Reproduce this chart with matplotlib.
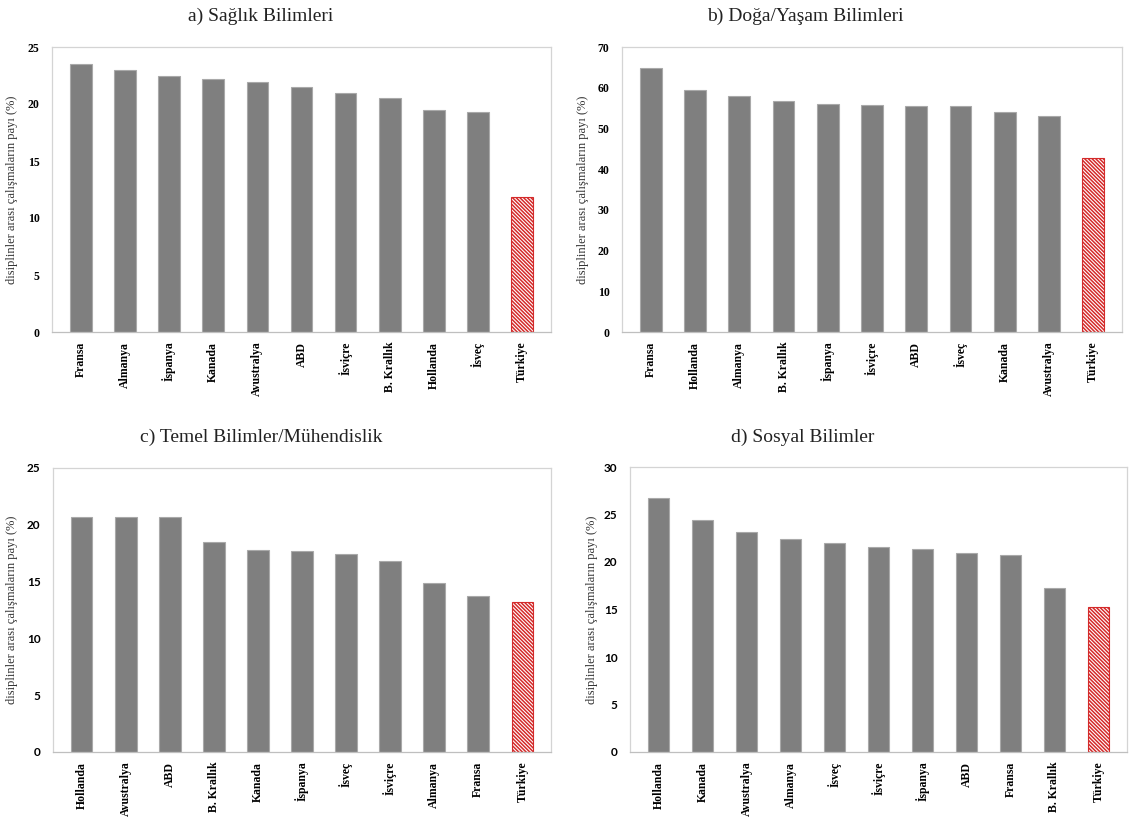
import matplotlib
matplotlib.use('Agg')
import matplotlib.pyplot as plt

plt.rcParams['font.family'] = ['Liberation Serif', 'DejaVu Serif']
plt.rcParams['hatch.linewidth'] = 1.1
plt.rcParams['hatch.color'] = '#d42a2a'

# a) Sağlık Bilimleri
saglik_ulke = ['Fransa', 'Almanya', 'İspanya', 'Kanada', 'Avustralya', 'ABD',
               'İsviçre', 'B. Krallık', 'Hollanda', 'İsveç', 'Türkiye']
saglik_pay = [23.5, 23.0, 22.5, 22.15, 21.9, 21.5, 21.0, 20.5, 19.5, 19.3, 11.8]

# b) Doğa/Yaşam Bilimleri
doga_ulke = ['Fransa', 'Hollanda', 'Almanya', 'B. Krallık', 'İspanya', 'İsviçre',
             'ABD', 'İsveç', 'Kanada', 'Avustralya', 'Türkiye']
doga_pay = [64.9, 59.5, 58.0, 56.8, 56.0, 55.7, 55.6, 55.5, 54.0, 53.0, 42.8]

# c) Temel Bilimler/Mühendislik
temel_ulke = ['Hollanda', 'Avustralya', 'ABD', 'B. Krallık', 'Kanada', 'İspanya',
              'İsveç', 'İsviçre', 'Almanya', 'Fransa', 'Türkiye']
temel_pay = [20.7, 20.7, 20.7, 18.5, 17.8, 17.7, 17.4, 16.8, 14.9, 13.7, 13.2]

# d) Sosyal Bilimler
sosyal_ulke = ['Hollanda', 'Kanada', 'Avustralya', 'Almanya', 'İsveç', 'İsviçre',
               'İspanya', 'ABD', 'Fransa', 'B. Krallık', 'Türkiye']
sosyal_pay = [26.75, 24.4, 23.2, 22.4, 22.0, 21.6, 21.4, 21.0, 20.7, 17.3, 15.3]

basliklar = ['a) Sağlık Bilimleri', 'b) Doğa/Yaşam Bilimleri',
             'c) Temel Bilimler/Mühendislik', 'd) Sosyal Bilimler']
ylabel = 'disiplinler arası çalışmaların payı (%)'

W, H = 1129, 824
fig = plt.figure(figsize=(W / 100, H / 100), dpi=100)


def px_axes(left, top, right, bottom):
    return fig.add_axes([left / W, (H - bottom) / H, (right - left) / W, (bottom - top) / H])


def panel(ax, ulke, pay, ymax, step, tick_font):
    x = range(len(ulke))
    renk = ['#7f7f7f'] * (len(ulke) - 1) + ['white']
    kenar = ['#a9a9a9'] * (len(ulke) - 1) + ['#d42a2a']
    bars = ax.bar(x, pay, width=0.49, color=renk, edgecolor=kenar, linewidth=0.8)
    bars[-1].set_hatch('\\' * 9)
    ax.set_xlim(-0.65, len(ulke) - 0.35)
    ax.set_ylim(0, ymax)
    ax.set_yticks(range(0, ymax + 1, step))
    ax.set_xticks(list(x))
    ax.set_xticklabels(ulke, rotation=90, fontweight='bold', fontsize=8.5)
    for t in ax.get_yticklabels():
        t.set_family(tick_font)
        t.set_fontweight('bold')
        t.set_fontsize(8.5)
    ax.tick_params(length=0)
    ax.tick_params(axis='y', pad=9)
    ax.tick_params(axis='x', pad=7)
    for s in ax.spines.values():
        s.set_color('#d4d4d4')
        s.set_linewidth(0.9)
    ax.spines['bottom'].set_color('#bfbfbf')


ax_a = px_axes(52, 47, 551, 332)
ax_b = px_axes(622, 47, 1122, 332)
ax_c = px_axes(53, 468, 551, 752)
ax_d = px_axes(630, 467, 1127, 752)

panel(ax_a, saglik_ulke, saglik_pay, 25, 5, 'Liberation Serif')
panel(ax_b, doga_ulke, doga_pay, 70, 10, 'Liberation Serif')
panel(ax_c, temel_ulke, temel_pay, 25, 5, 'Lato')
panel(ax_d, sosyal_ulke, sosyal_pay, 30, 5, 'Lato')

# panel başlıkları
for (cx, cy), b in zip([(261, 16), (805, 16), (261, 437), (803, 437)], basliklar):
    fig.text(cx / W, 1 - cy / H, b, ha='center', va='center', fontsize=14, color='#222222')

# y eksen etiketleri
for (lx, ly) in [(12, 190), (583, 190), (12, 610), (592, 610)]:
    fig.text(lx / W, 1 - ly / H, ylabel, rotation=90, ha='center', va='center',
             fontsize=9, color='#333333')

fig.savefig('out.png', dpi=100)
